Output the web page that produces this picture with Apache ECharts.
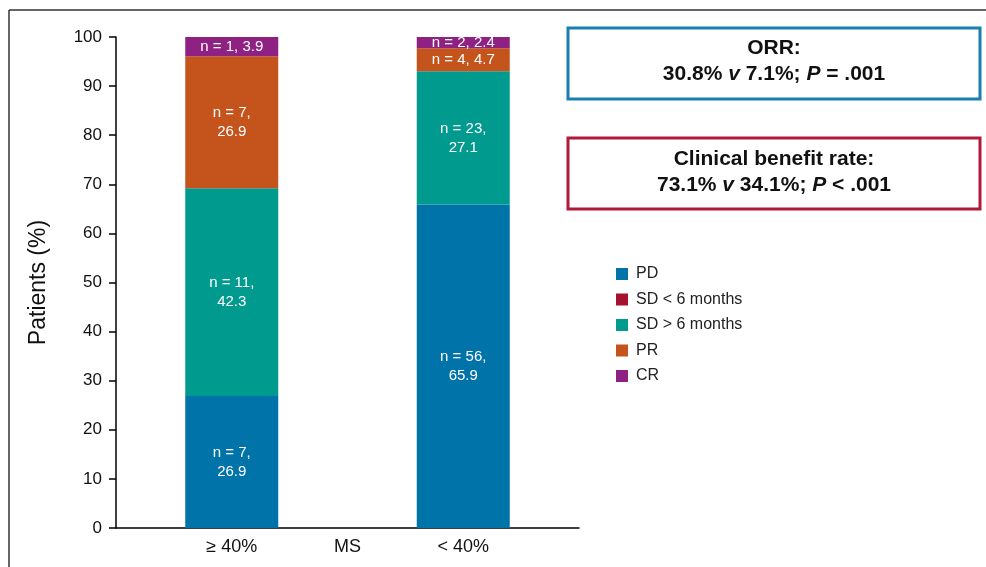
<!DOCTYPE html>
<html><head><meta charset="utf-8">
<script src="https://cdn.jsdelivr.net/npm/echarts@6/dist/echarts.min.js"></script>
<style>html,body{margin:0;padding:0;background:#fff}#c{width:986px;height:567px}</style>
</head><body><div id="c"></div>
<script>
const categories = ['', '≥ 40%', 'MS', '< 40%', ''];
const seriesNames = ['PD', 'SD < 6 months', 'SD > 6 months', 'PR', 'CR'];
const pdVals   = [null, 26.9, null, 65.9, null];
const pdN      = [null, 7, null, 56, null];
const sdLtVals = [null, 0, null, 0, null];
const sdLtN    = [null, 0, null, 0, null];
const sdGtVals = [null, 42.3, null, 27.1, null];
const sdGtN    = [null, 11, null, 23, null];
const prVals   = [null, 26.9, null, 4.7, null];
const prN      = [null, 7, null, 4, null];
const crVals   = [null, 3.9, null, 2.4, null];
const crN      = [null, 1, null, 2, null];
const yTicks = [0, 10, 20, 30, 40, 50, 60, 70, 80, 90, 100];

const colors = ['#0073a8', '#a6122e', '#009a8e', '#c4541b', '#8e2182'];
const font = 'Liberation Sans, Arial, Helvetica, sans-serif';

function mk(name, vals, ns, color, showLabel) {
  return {
    name: name, type: 'bar', stack: 'total', barWidth: 93,
    itemStyle: { color: color },
    data: vals,
    label: {
      show: showLabel, position: 'inside', color: '#fff', fontSize: 15, fontFamily: font, lineHeight: 19,
      formatter: function (p) {
        const v = p.value; if (v == null || v === 0) return '';
        const n = ns[p.dataIndex];
        return v < 6 ? 'n = ' + n + ', ' + v.toFixed(1) : 'n = ' + n + ',\n' + v.toFixed(1);
      }
    }
  };
}

const chart = echarts.init(document.getElementById('c'));
chart.setOption({
  animation: false,
  textStyle: { fontFamily: font },
  grid: { left: 116, right: 407, top: 37, bottom: 39 },
  legend: {
    orient: 'vertical', left: 611, top: 261, itemWidth: 12, itemHeight: 12, itemGap: 9.5,
    icon: 'rect', data: seriesNames,
    textStyle: { fontSize: 16, color: '#222', fontFamily: font, padding: [0, 0, 0, 3] }
  },
  xAxis: {
    type: 'category', data: categories, boundaryGap: false,
    axisLine: { lineStyle: { color: '#000', width: 1.5 } },
    axisTick: { show: false },
    axisLabel: { fontSize: 18, color: '#111', margin: 10, fontFamily: font, interval: 0 }
  },
  yAxis: {
    type: 'value', min: 0, max: 100, interval: 10,
    name: 'Patients (%)', nameLocation: 'middle', nameGap: 66,
    nameTextStyle: { fontSize: 23, color: '#111', fontFamily: font },
    axisLine: { show: true, lineStyle: { color: '#000', width: 1.5 } },
    axisTick: { show: true, length: 7, lineStyle: { color: '#000', width: 1.5 } },
    axisLabel: { fontSize: 17, color: '#111', margin: 14, fontFamily: font,
      formatter: function (v) { return yTicks.indexOf(v) >= 0 ? String(v) : ''; } },
    splitLine: { show: false }
  },
  series: [
    mk(seriesNames[0], pdVals, pdN, colors[0], true),
    mk(seriesNames[1], sdLtVals, sdLtN, colors[1], false),
    mk(seriesNames[2], sdGtVals, sdGtN, colors[2], true),
    mk(seriesNames[3], prVals, prN, colors[3], true),
    mk(seriesNames[4], crVals, crN, colors[4], true)
  ],
  graphic: [
    { type: 'line', shape: { x1: 9, y1: 10, x2: 986, y2: 10 }, style: { stroke: '#333', lineWidth: 1.5 } },
    { type: 'line', shape: { x1: 9, y1: 10, x2: 9, y2: 567 }, style: { stroke: '#333', lineWidth: 1.5 } },
    { type: 'rect', shape: { x: 568, y: 28, width: 412, height: 71 }, style: { fill: 'none', stroke: '#1a7db3', lineWidth: 3 } },
    { type: 'rect', shape: { x: 568, y: 138, width: 412, height: 71 }, style: { fill: 'none', stroke: '#b01a38', lineWidth: 3 } },
    { type: 'text', x: 774, y: 48, style: { text: 'ORR:', font: 'bold 21px ' + font, fill: '#111', align: 'center', verticalAlign: 'middle' } },
    { type: 'text', x: 774, y: 74, style: {
      text: '{b|30.8% }{i|v}{b| 7.1%; }{i|P}{b| = .001}', align: 'center', verticalAlign: 'middle',
      rich: { b: { font: 'bold 21px ' + font, fill: '#111' }, i: { font: 'italic bold 21px ' + font, fill: '#111' } } } },
    { type: 'text', x: 774, y: 159, style: { text: 'Clinical benefit rate:', font: 'bold 21px ' + font, fill: '#111', align: 'center', verticalAlign: 'middle' } },
    { type: 'text', x: 774, y: 185, style: {
      text: '{b|73.1% }{i|v}{b| 34.1%; }{i|P}{b| < .001}', align: 'center', verticalAlign: 'middle',
      rich: { b: { font: 'bold 21px ' + font, fill: '#111' }, i: { font: 'italic bold 21px ' + font, fill: '#111' } } } }
  ]
});
</script></body></html>
